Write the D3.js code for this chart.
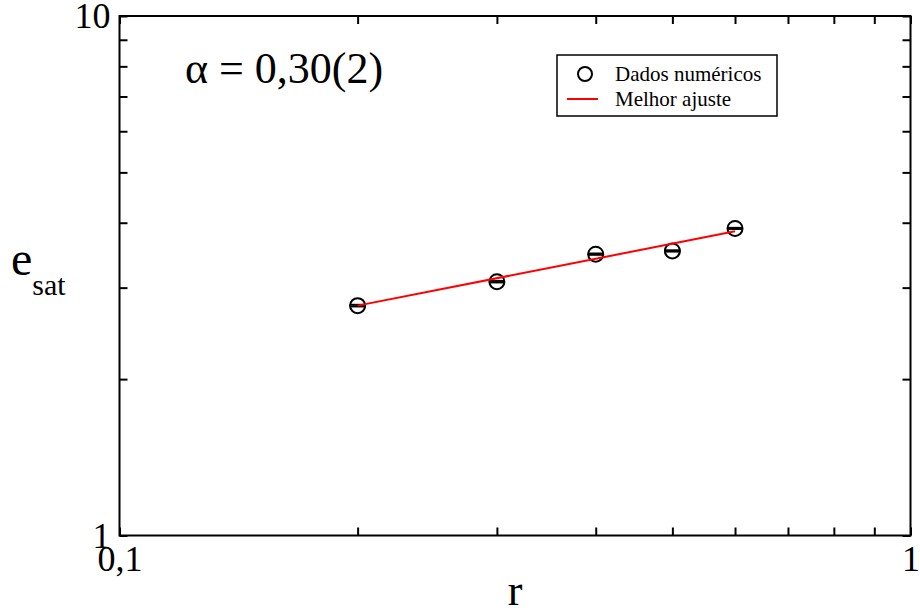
<!DOCTYPE html>
<meta charset="utf-8">
<style>
    body { margin: 0; background: #fff; }
    svg text { font-family: "Liberation Serif", "Times New Roman", serif; fill: #000; }
</style>
<body>
<script src="https://d3js.org/d3.v7.min.js"></script>
<script>
    // dados
    var rVals = [0.2, 0.3, 0.4, 0.5, 0.6];
    var eVals = [2.77, 3.08, 3.48, 3.53, 3.90];
    var eErr = [0.01, 0.01, 0.01, 0.01, 0.01];
    var fitR = [0.2, 0.6];
    var fitE = [2.77, 3.85];
    var xTicks = [0.1, 0.2, 0.3, 0.4, 0.5, 0.6, 0.7, 0.8, 0.9, 1];
    var yTicks = [1, 2, 3, 4, 5, 6, 7, 8, 9, 10];
    var xLabels = {0.1: "0,1", 1: "1"};
    var yLabels = {1: "1", 10: "10"};
    var legendNames = ["Dados numéricos", "Melhor ajuste"];
    var fitText = "α = 0,30(2)";

    var W = 920, H = 612;
    var svg = d3.select("body").append("svg")
        .attr("width", W)
        .attr("height", H);

    var x = d3.scaleLog().domain([0.1, 1]).range([119.5, 910.5]);
    var y = d3.scaleLog().domain([1, 10]).range([535.5, 16]);

    function styleAxis(g) {
        g.select(".domain").remove();
        g.selectAll(".tick line").attr("stroke", "#000").attr("stroke-width", 2);
        g.selectAll(".tick text").attr("font-size", 36);
    }

    svg.append("g")
        .attr("transform", "translate(0," + y.range()[0] + ")")
        .call(d3.axisBottom(x).tickValues(xTicks).tickSize(-8).tickPadding(10)
            .tickFormat(function(d) { return xLabels[d] || ""; }))
        .call(styleAxis);
    svg.append("g")
        .attr("transform", "translate(0," + y.range()[1] + ")")
        .call(d3.axisTop(x).tickValues(xTicks).tickSize(-8).tickFormat(""))
        .call(styleAxis);
    svg.append("g")
        .attr("transform", "translate(" + x.range()[0] + ",0)")
        .call(d3.axisLeft(y).tickValues(yTicks).tickSize(-8).tickPadding(9)
            .tickFormat(function(d) { return yLabels[d] || ""; }))
        .call(styleAxis);
    svg.append("g")
        .attr("transform", "translate(" + x.range()[1] + ",0)")
        .call(d3.axisRight(y).tickValues(yTicks).tickSize(-8).tickFormat(""))
        .call(styleAxis);

    // moldura
    svg.append("rect")
        .attr("x", x.range()[0]).attr("y", y.range()[1])
        .attr("width", x.range()[1] - x.range()[0])
        .attr("height", y.range()[0] - y.range()[1])
        .attr("fill", "none").attr("stroke", "#000").attr("stroke-width", 2);

    var pts = rVals.map(function(r, i) { return {r: r, e: eVals[i], err: eErr[i]}; });

    // barras de erro (tampas)
    var cap = 8;
    pts.forEach(function(d) {
        [d.e - d.err, d.e + d.err].forEach(function(v) {
            svg.append("line")
                .attr("x1", x(d.r) - cap).attr("x2", x(d.r) + cap)
                .attr("y1", y(v)).attr("y2", y(v))
                .attr("stroke", "#000").attr("stroke-width", 2);
        });
    });

    svg.selectAll("circle.pt").data(pts).enter().append("circle")
        .attr("class", "pt")
        .attr("cx", function(d) { return x(d.r); })
        .attr("cy", function(d) { return y(d.e); })
        .attr("r", 7.5)
        .attr("fill", "none").attr("stroke", "#000").attr("stroke-width", 2);

    var line = d3.line()
        .x(function(d) { return x(d[0]); })
        .y(function(d) { return y(d[1]); });
    svg.append("path")
        .datum(fitR.map(function(r, i) { return [r, fitE[i]]; }))
        .attr("fill", "none").attr("stroke", "#f00").attr("stroke-width", 2)
        .attr("d", line);

    // legenda
    var lg = svg.append("g");
    lg.append("rect").attr("x", 557).attr("y", 55).attr("width", 220).attr("height", 61)
        .attr("fill", "#fff").attr("stroke", "#000").attr("stroke-width", 1.5);
    lg.append("circle").attr("cx", 585).attr("cy", 74).attr("r", 7)
        .attr("fill", "none").attr("stroke", "#000").attr("stroke-width", 2);
    lg.append("line").attr("x1", 567).attr("x2", 598).attr("y1", 99).attr("y2", 99)
        .attr("stroke", "#f00").attr("stroke-width", 2);
    lg.selectAll("text").data(legendNames).enter().append("text")
        .attr("x", 615)
        .attr("y", function(d, i) { return 81 + i * 25; })
        .attr("font-size", 21)
        .text(function(d) { return d; });

    svg.append("text").attr("x", 185).attr("y", 83).attr("font-size", 44).text(fitText);

    svg.append("text").attr("x", 515).attr("y", 605).attr("text-anchor", "middle")
        .attr("font-size", 44).text("r");

    var yl = svg.append("text").attr("x", 11).attr("y", 275).attr("font-size", 48);
    yl.append("tspan").text("e");
    yl.append("tspan").attr("font-size", 30).attr("dy", 20).text("sat");
</script>
</body>
